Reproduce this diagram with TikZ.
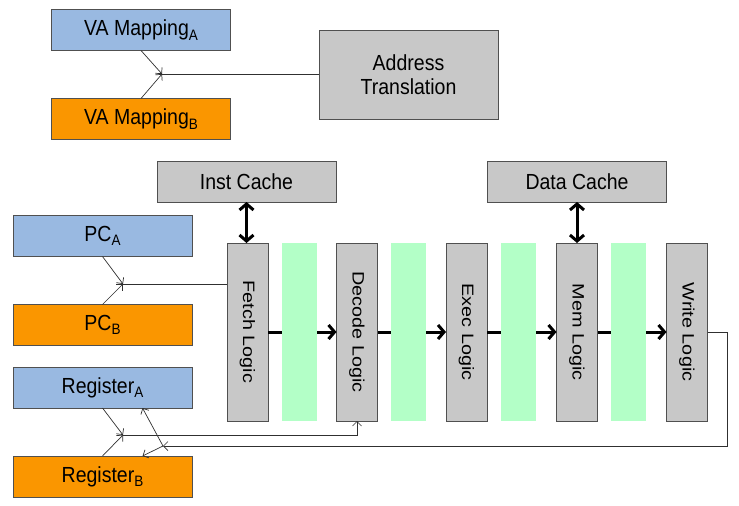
\documentclass[tikz,border=0pt]{standalone}
\usepackage{fontspec}
\setmainfont{Liberation Sans}
\usepackage{graphicx}
\usetikzlibrary{arrows.meta}
\newcommand\tallText[1]{\scalebox{1}[1.12]{#1}}
\newcommand\vertText[1]{\rotatebox{-90}{\scalebox{1.2}[1]{#1}}}
\newcommand\thr[1]{\raisebox{-4pt}{\fontsize{13.5pt}{13.5pt}\selectfont #1}}

\begin{document}
\begin{tikzpicture}[x=1pt,y=-1pt,
	blk/.style={draw=custcol_50_50_50, line width=0.8pt, inner sep=0, outer sep=0, minimum width=179pt, minimum height=41pt, font=\fontsize{19.5pt}{23pt}\selectfont},
	logicbox/.style={blk, fill=custcol_c8_c8_c8, minimum width=41pt, minimum height=178pt, font=\fontsize{16.5pt}{20pt}\selectfont},
	latchbar/.style={fill=custcol_b3_ff_c7, inner sep=0, minimum width=35pt, minimum height=178pt},
	wire/.style={draw=custcol_30_30_30, line width=0.7pt},
	thinarrow/.style={wire, -{Straight Barb[length=4.5pt,width=9pt]}},
	fatarrow/.style={line width=3pt, -{Straight Barb[length=6pt,width=14pt]}},
	fatboth/.style={line width=3pt, {Straight Barb[length=6pt,width=14pt]}-{Straight Barb[length=6pt,width=14pt]}}]
						\definecolor{custcol_99_b9_e1}{RGB}{153, 185, 225}
						\definecolor{custcol_fa_96_00}{RGB}{250, 150, 0}
						\definecolor{custcol_c8_c8_c8}{RGB}{200, 200, 200}
						\definecolor{custcol_b3_ff_c7}{RGB}{179, 255, 199}
						\definecolor{custcol_50_50_50}{RGB}{80, 80, 80}
						\definecolor{custcol_30_30_30}{RGB}{48, 48, 48}
						\useasboundingbox (0,0) rectangle (739,506);
						% address translation
						\node[blk, fill=custcol_99_b9_e1] (vaA) at (141,30) {\tallText{VA Mapping\thr{A}}};
						\node[blk, fill=custcol_fa_96_00] (vaB) at (141,119) {\tallText{VA Mapping\thr{B}}};
						\node[blk, fill=custcol_c8_c8_c8, minimum height=89pt] (addr) at (408.5,74.5) {\tallText{\shortstack{Address\\[4pt]Translation}}};
						\coordinate (vaJ) at (162,74);
						\draw[thinarrow] (vaA.south) -- (vaJ);
						\draw[thinarrow] (vaB.north) -- (vaJ);
						\draw[wire] (vaJ) -- (vaJ -| addr.west);
						% caches
						\node[blk, fill=custcol_c8_c8_c8] (icache) at (246.5,181.5) {\tallText{Inst Cache}};
						\node[blk, fill=custcol_c8_c8_c8] (dcache) at (577,181.5) {\tallText{Data Cache}};
						% thread state
						\node[blk, fill=custcol_99_b9_e1] (pcA) at (102.5,236) {\tallText{PC\thr{A}}};
						\node[blk, fill=custcol_fa_96_00] (pcB) at (102.5,325) {\tallText{PC\thr{B}}};
						\node[blk, fill=custcol_99_b9_e1] (regA) at (102.5,387.5) {\tallText{Register\thr{A}}};
						\node[blk, fill=custcol_fa_96_00] (regB) at (102.5,476.5) {\tallText{Register\thr{B}}};
						% pipeline
						\node[logicbox] (fetch) at (247.5,332) {\vertText{Fetch Logic}};
						\node[logicbox] (decode) at (357,332) {\vertText{Decode Logic}};
						\node[logicbox] (exec) at (466.5,332) {\vertText{Exec Logic}};
						\node[logicbox] (mem) at (577,332) {\vertText{Mem Logic}};
						\node[logicbox] (write) at (687,332) {\vertText{Write Logic}};
						\draw[fatboth] (icache.south) -- (icache.south |- fetch.north);
						\draw[fatboth] (dcache.south) -- (dcache.south |- mem.north);
						\draw[fatarrow] (fetch.east) -- (decode.west);
						\draw[fatarrow] (decode.east) -- (exec.west);
						\draw[fatarrow] (exec.east) -- (mem.west);
						\draw[fatarrow] (mem.east) -- (write.west);
						\node[latchbar] (latch1) at (299.5,332) {};
						\node[latchbar] (latch2) at (408.5,332) {};
						\node[latchbar] (latch3) at (518.5,332) {};
						\node[latchbar] (latch4) at (628.5,332) {};
						% pc select
						\coordinate (pcJ) at (123,284);
						\draw[thinarrow] (pcA.south) -- (pcJ);
						\draw[thinarrow] (pcB.north) -- (pcJ);
						\draw[wire] (pcJ) -- (pcJ -| fetch.west);
						% register read
						\coordinate (regJ) at (123,435);
						\draw[thinarrow] (regA.south) -- (regJ);
						\draw[thinarrow] (regB.north) -- (regJ);
						\draw[thinarrow] (regJ) -| (decode.south);
						% write back
						\coordinate (wbJ) at (163,446);
						\draw[thinarrow] (write.east) -- ++(20,0) |- (wbJ);
						\draw[thinarrow] (wbJ) -- ([xshift=40pt]regA.south);
						\draw[thinarrow] (wbJ) -- ([xshift=40pt]regB.north);
						\end{tikzpicture}
\end{document}
